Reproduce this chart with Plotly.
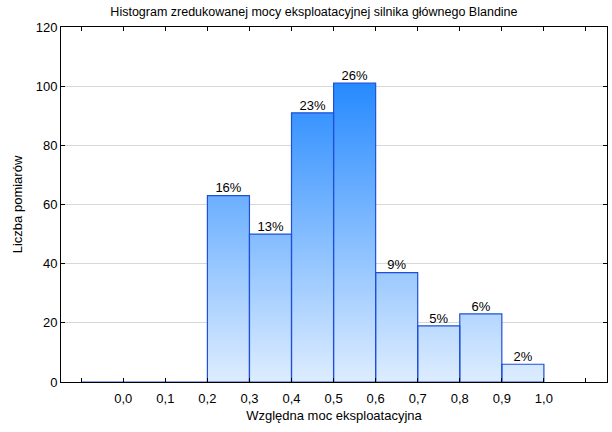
import plotly.graph_objects as go

# Data
bin_starts = [-0.1, 0.0, 0.1, 0.2, 0.3, 0.4, 0.5, 0.6, 0.7, 0.8, 0.9]
bin_width = 0.1
counts = [0, 0, 0, 63, 50, 91, 101, 37, 19, 23, 6]
tick_values = [-0.1, 0.0, 0.1, 0.2, 0.3, 0.4, 0.5, 0.6, 0.7, 0.8, 0.9, 1.0, 1.1]
tick_labels = ["", "0,0", "0,1", "0,2", "0,3", "0,4", "0,5", "0,6", "0,7", "0,8", "0,9", "1,0", ""]
y_ticks = [0, 20, 40, 60, 80, 100, 120]

total = sum(counts)

# Build bar polygons from data
xs, ys = [], []
for s, c in zip(bin_starts, counts):
    e = s + bin_width
    xs += [s, s, e, e, s, None]
    ys += [0, c, c, 0, 0, None]

FONT = "Liberation Sans, Arial"

fig = go.Figure()
fig.add_trace(go.Scatter(
    x=xs, y=ys, mode="lines", fill="toself",
    fillgradient=dict(type="vertical",
                      colorscale=[[0, "rgb(222,237,255)"], [1, "rgb(38,138,255)"]],
                      start=0, stop=max(counts)),
    line=dict(color="#1f50d6", width=1.2),
    hoverinfo="skip", showlegend=False,
))

# Percentage labels
lx, ly, lt = [], [], []
for s, c in zip(bin_starts, counts):
    if c > 0:
        lx.append(s + bin_width / 2)
        ly.append(c)
        lt.append(f"{round(c / total * 100)}%")
fig.add_trace(go.Scatter(
    x=lx, y=ly, text=lt, mode="text", textposition="top center",
    textfont=dict(family=FONT, size=13, color="black"),
    showlegend=False, hoverinfo="skip", cliponaxis=False,
))

fig.update_layout(
    width=612, height=432,
    margin=dict(l=61, r=5, t=27, b=50),
    paper_bgcolor="white", plot_bgcolor="white",
    font=dict(family=FONT, size=13, color="black"),
    title=dict(text="Histogram zredukowanej mocy eksploatacyjnej silnika głównego Blandine",
               x=0.513, xref="container", xanchor="center", y=0.972, yanchor="middle",
               font=dict(size=12.5)),
)
fig.update_xaxes(
    range=[-0.148, 1.15], tickvals=tick_values, ticktext=tick_labels,
    ticks="inside", ticklen=4, tickcolor="black", ticklabelstandoff=4,
    showline=True, linecolor="black", linewidth=1, mirror="ticks",
    showgrid=False, zeroline=False, automargin=False,
    title=dict(text="Względna moc eksploatacyjna", standoff=6, font=dict(size=13)),
    tickfont=dict(size=13),
)
fig.update_yaxes(
    range=[0, 120], tickvals=y_ticks,
    ticks="inside", ticklen=4, tickcolor="black",
    showline=True, linecolor="black", linewidth=1, mirror="ticks",
    showgrid=True, gridcolor="#d8d8d8", gridwidth=1, zeroline=False, automargin=False,
    title=dict(text="Liczba pomiarów", standoff=10, font=dict(size=13)),
    tickfont=dict(size=13),
)

fig.write_html("out.html", config={"displayModeBar": False},
               post_script="document.body.style.margin='0';document.body.style.padding='0';")
